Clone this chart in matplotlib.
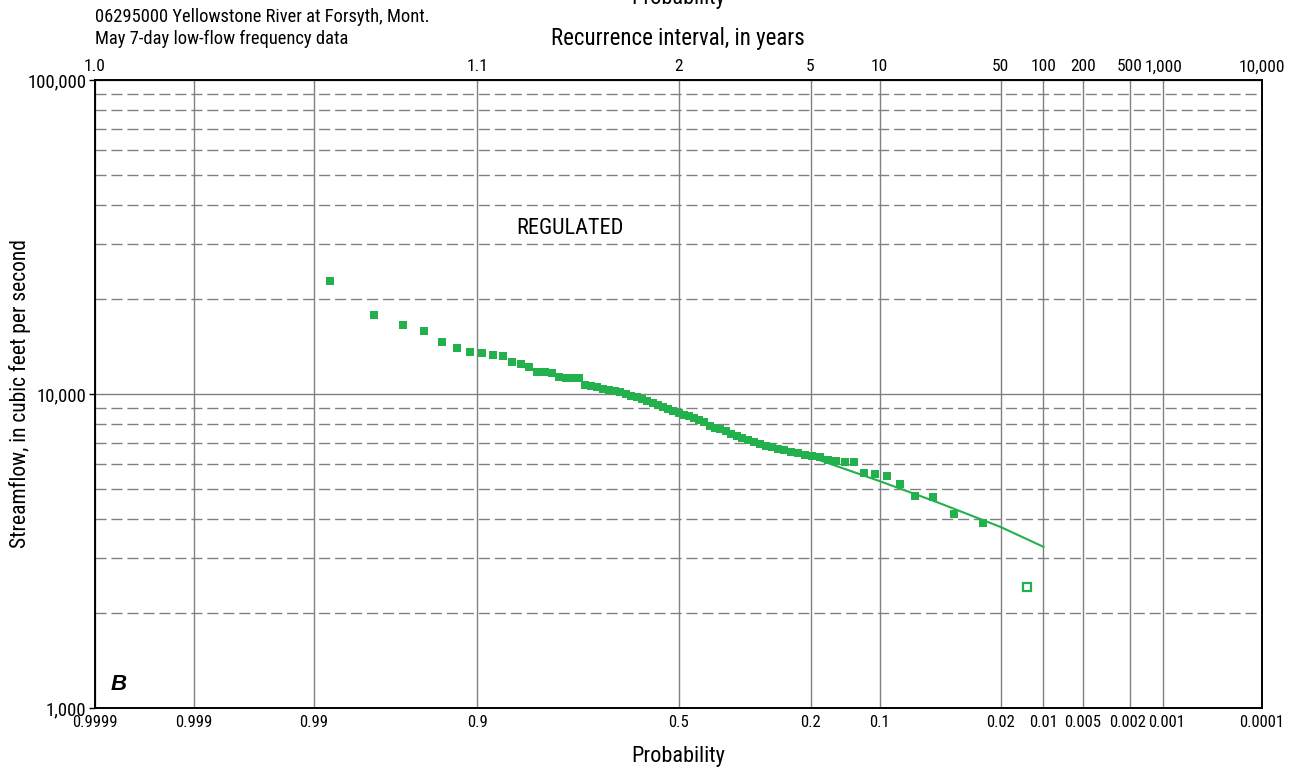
from statistics import NormalDist

import numpy as np
import matplotlib
matplotlib.use("Agg")
import matplotlib.pyplot as plt
import matplotlib.transforms as mtransforms
from matplotlib.ticker import FixedLocator, FixedFormatter, NullFormatter, LogLocator

plt.rcParams['font.family'] = ['Roboto Condensed', 'Liberation Sans Narrow', 'DejaVu Sans']

# May 7-day low flows, ranked largest to smallest (cfs)
flows = [22900, 17810, 16590, 15830, 14680, 14040, 13570, 13480, 13310, 13190,
         12670, 12490, 12220, 11750, 11710, 11670, 11330, 11250, 11250, 11210,
         10680, 10600, 10490, 10370, 10300, 10220, 10150, 10000, 9850, 9780,
         9640, 9500, 9360, 9230, 9090, 8960, 8830, 8700, 8570, 8510,
         8390, 8260, 8140, 7910, 7790, 7740, 7620, 7460, 7350, 7240,
         7140, 7030, 6930, 6830, 6780, 6680, 6630, 6540, 6490, 6390,
         6350, 6300, 6160, 6130, 6090, 6060, 5620, 5570, 5470, 5160,
         4720, 4710, 4160, 3880, 2430]
outlier_rank = 75  # low outlier, shown open

# fitted frequency curve
fit_prob = [0.5, 0.4, 0.3, 0.2, 0.1, 0.05, 0.02, 0.01]
fit_flow = [8700, 7850, 6980, 6300, 5280, 4530, 3770, 3260]

prob_ticks = [0.9999, 0.999, 0.99, 0.9, 0.5, 0.2, 0.1, 0.02, 0.01, 0.005, 0.002, 0.001, 0.0001]
prob_labels = ['0.9999', '0.999', '0.99', '0.9', '0.5', '0.2', '0.1', '0.02', '0.01', '0.005',
               '0.002', '0.001', '0.0001']
ri_ticks = [0.9999, 0.9, 0.5, 0.2, 0.1, 0.02, 0.01, 0.005, 0.002, 0.001, 0.0001]
ri_labels = ['1.0', '1.1', '2', '5', '10', '50', '100', '200', '500', '1,000', '10,000']

green = '#22b14c'
grid_gray = '#808080'
nd = NormalDist()


def to_z(p):
    p = np.clip(np.asarray(p, dtype=float), 1e-9, 1 - 1e-9)
    return np.vectorize(nd.inv_cdf, otypes=[float])(p)


def from_z(z):
    return np.vectorize(nd.cdf, otypes=[float])(np.asarray(z, dtype=float))


# Weibull plotting positions
n = len(flows)
ranks = np.arange(1, n + 1)
plot_prob = 1 - ranks / (n + 1)
flows = np.array(flows)
is_out = ranks == outlier_rank

fig = plt.figure(figsize=(12.99, 7.71), dpi=100)
ax = fig.add_axes([95 / 1299, 1 - 708 / 771, (1262 - 95) / 1299, (708 - 80) / 771])

ax.set_xscale('function', functions=(to_z, from_z))
ax.set_yscale('log')
ax.set_xlim(0.9999, 0.0001)
ax.set_ylim(1000, 100000)

ax.plot(fit_prob, fit_flow, color=green, lw=1.5, zorder=3)
ax.plot(plot_prob[~is_out], flows[~is_out], 's', color=green, ms=5.8, mew=0, zorder=4)
ax.plot(plot_prob[is_out], flows[is_out], 's', mfc='white', mec=green, ms=5.5, mew=1.6, zorder=4)

ax.xaxis.set_major_locator(FixedLocator(prob_ticks))
ax.xaxis.set_major_formatter(FixedFormatter(prob_labels))
ax.xaxis.set_minor_locator(FixedLocator([]))
ax.yaxis.set_minor_locator(LogLocator(base=10, subs=np.arange(2, 10)))
ax.yaxis.set_minor_formatter(NullFormatter())
ax.set_yticks([1000, 10000, 100000], ['1,000', '10,000', '100,000'])

ax.grid(axis='x', which='major', color=grid_gray, lw=1.0)
ax.grid(axis='y', which='major', color=grid_gray, lw=1.0)
ax.grid(axis='y', which='minor', color=grid_gray, lw=1.0, ls=(0, (8, 3.5)))
ax.set_axisbelow(True)

ax.tick_params(axis='x', length=0, labelsize=12, pad=5)
ax.tick_params(axis='y', which='major', length=4, width=1, labelsize=13.5, pad=2)
ax.tick_params(axis='y', which='minor', length=0)
for s in ax.spines.values():
    s.set_linewidth(1.4)

# spread the two crowded labels near the right edge a little
for lbl, dx in zip(ax.get_xticklabels()[10:12], (-2, 2)):
    lbl.set_transform(lbl.get_transform() + mtransforms.ScaledTranslation(dx / 72, 0, fig.dpi_scale_trans))

ax.set_xlabel('Probability', fontsize=16)
ax.xaxis.set_label_coords(0.5, -(746 - 708) / 628)
ax.set_ylabel('Streamflow, in cubic feet per second', fontsize=15.5)
ax.yaxis.set_label_coords(-(95 - 31) / 1167, 0.5)

# recurrence interval along the top
ax2 = ax.twiny()
ax2.set_xscale('function', functions=(to_z, from_z))
ax2.set_xlim(ax.get_xlim())
ax2.xaxis.set_major_locator(FixedLocator(ri_ticks))
ax2.xaxis.set_major_formatter(FixedFormatter(ri_labels))
ax2.xaxis.set_minor_locator(FixedLocator([]))
ax2.tick_params(axis='x', length=0, labelsize=12.5, pad=4)
for s in ax2.spines.values():
    s.set_visible(False)

ax.text(0.407, 0.764, 'REGULATED', transform=ax.transAxes, ha='center', va='center', fontsize=16)
ax.text(0.013, 0.037, 'B', transform=ax.transAxes, ha='left', va='center',
        fontsize=16, fontweight='bold', fontstyle='italic', family=['Liberation Sans', 'DejaVu Sans'])

fig.text(95 / 1299, 1 - 17 / 771, '06295000 Yellowstone River at Forsyth, Mont.', ha='left', va='center', fontsize=13.3)
fig.text(95 / 1299, 1 - 39 / 771, 'May 7-day low-flow frequency data', ha='left', va='center', fontsize=13.3)
fig.text(678 / 1299, 1 - 38 / 771, 'Recurrence interval, in years', ha='center', va='center', fontsize=16.5)
fig.text(678 / 1299, 1 - 4 / 771, 'Probability', ha='center', va='baseline', fontsize=16)

fig.savefig('out.png', dpi=100)
